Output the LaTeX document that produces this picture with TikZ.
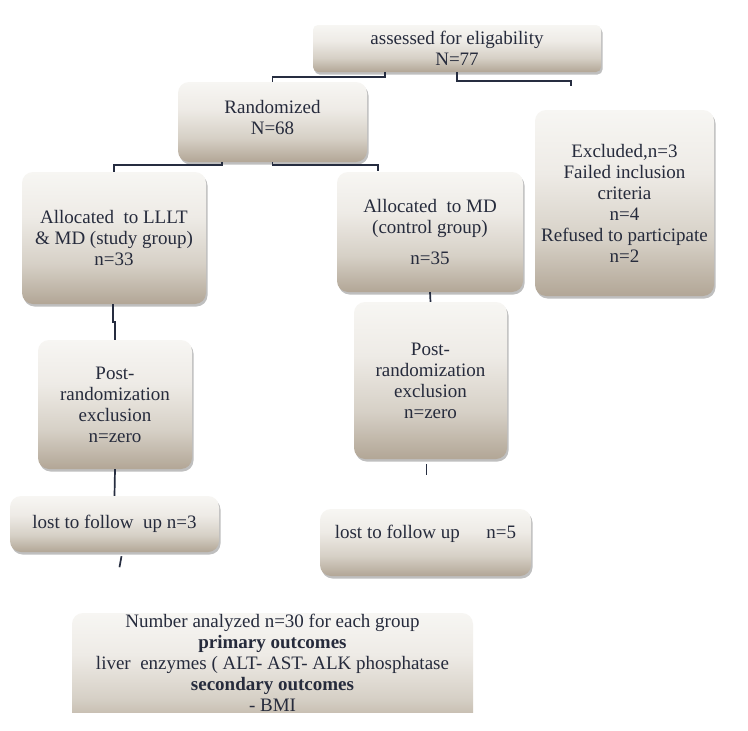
\documentclass[tikz,border=0pt]{standalone}
\usepackage{fontspec}
\setmainfont{Liberation Serif}
\usetikzlibrary{shadows,calc}
\definecolor{boxtop}{HTML}{F7F6F3}
\definecolor{boxup}{HTML}{EEEBE6}
\definecolor{boxmid}{HTML}{D6D0C6}
\definecolor{boxbot}{HTML}{B2A696}
\definecolor{ink}{HTML}{262B3C}
\definecolor{wirecol}{HTML}{262D40}
\pgfdeclareverticalshading{boxshade}{100bp}{color(0bp)=(boxbot); color(25bp)=(boxbot); color(40bp)=(boxmid); color(58bp)=(boxup); color(75bp)=(boxtop); color(100bp)=(boxtop)}
\begin{document}
\begin{tikzpicture}[x=1pt,y=-1pt,
  boxfill/.style={shade, shading=boxshade},
  box/.style={boxfill, drop shadow={shadow xshift=1.5pt, shadow yshift=-2.5pt, opacity=0.25, fill=black},
    rounded corners=11pt, inner sep=0pt, align=center, text=ink, font=\fontsize{19}{21}\selectfont},
  txt/.style={inner sep=0pt, align=center, text=ink, font=\fontsize{19}{21}\selectfont},
  wire/.style={draw=wirecol, line width=1.7pt}]
\useasboundingbox (0,0) rectangle (748,731);
\fill[white] (0,0) rectangle (748,731);

\node[box, minimum width=288pt, minimum height=47pt, rounded corners=5pt] (assess) at (457,48.5) {assessed for eligability\\N=77};
\node[box, minimum width=189pt, minimum height=80pt] (rand) at (272.5,122) {Randomized\\N=68\\[-12pt]\mbox{}};
\node[box, minimum width=179pt, minimum height=186pt] (excl) at (624.5,203) {Excluded,n=3\\Failed inclusion\\criteria\\n=4\\Refused to participate\\n=2};
\node[box, minimum width=184pt, minimum height=132pt] (alloc1) at (114,238) {Allocated\ \ to LLLT\\\& MD (study group)\\n=33};
\node[box, minimum width=186pt, minimum height=120pt] (alloc2) at (430,232) {Allocated\ \ to MD\\(control group)\\[10pt]n=35};
\node[box, minimum width=154pt, minimum height=129pt] (post1) at (115,404.5) {Post-\\randomization\\exclusion\\n=zero};
\node[box, minimum width=153pt, minimum height=157pt] (post2) at (430.5,380.5) {Post-\\randomization\\exclusion\\n=zero};
\node[box, minimum width=209pt, minimum height=56pt] (lost1) at (114.5,524) {lost to follow\ \ up n=3};
\node[box, minimum width=211pt, minimum height=67pt] (lost2) at (425.5,542.5) {lost to follow up\hspace{1.4em}n=5\\[0pt]\mbox{}};

\begin{scope}
  \clip (0,600) rectangle (748,712);
  \path[boxfill, rounded corners=11pt] (72,613) rectangle (473,735);
\end{scope}
\node[txt] (analyzed) at (272.5,662.5) {Number analyzed n=30 for each group\\\textbf{primary outcomes}\\liver\ \ enzymes ( ALT- AST- ALK phosphatase\\\textbf{secondary outcomes}\\- BMI};

\coordinate (xa) at (385,0);
\coordinate (xb) at (222,0);
\coordinate (exclEnd) at (571,86);
\coordinate (alloc2End) at (378,171);

\draw[wire] (assess.south -| xa) -- ++(0,5) -| (rand.north);
\draw[wire] (assess.south) -- ++(0,9) -| (exclEnd);
\draw[wire] (rand.south -| xb) -- ++(0,3) -| (alloc1.north);
\draw[wire] (rand.south) -- ++(0,3) -| (alloc2End);
\draw[wire] ($(alloc1.south)+(-1,0)$) -- ++(0,18) -- ++(2,0) -- (post1.north);
\draw[wire] (alloc2.south) -- (post2.north);
\draw[wire] (post1.south) -- (lost1.north);
\draw[wire] ($(post2.south)+(-4,5)$) -- ++(0,11);
\draw[wire] ($(lost1.south)+(7,4)$) -- ++(-2,11);
\end{tikzpicture}
\end{document}
